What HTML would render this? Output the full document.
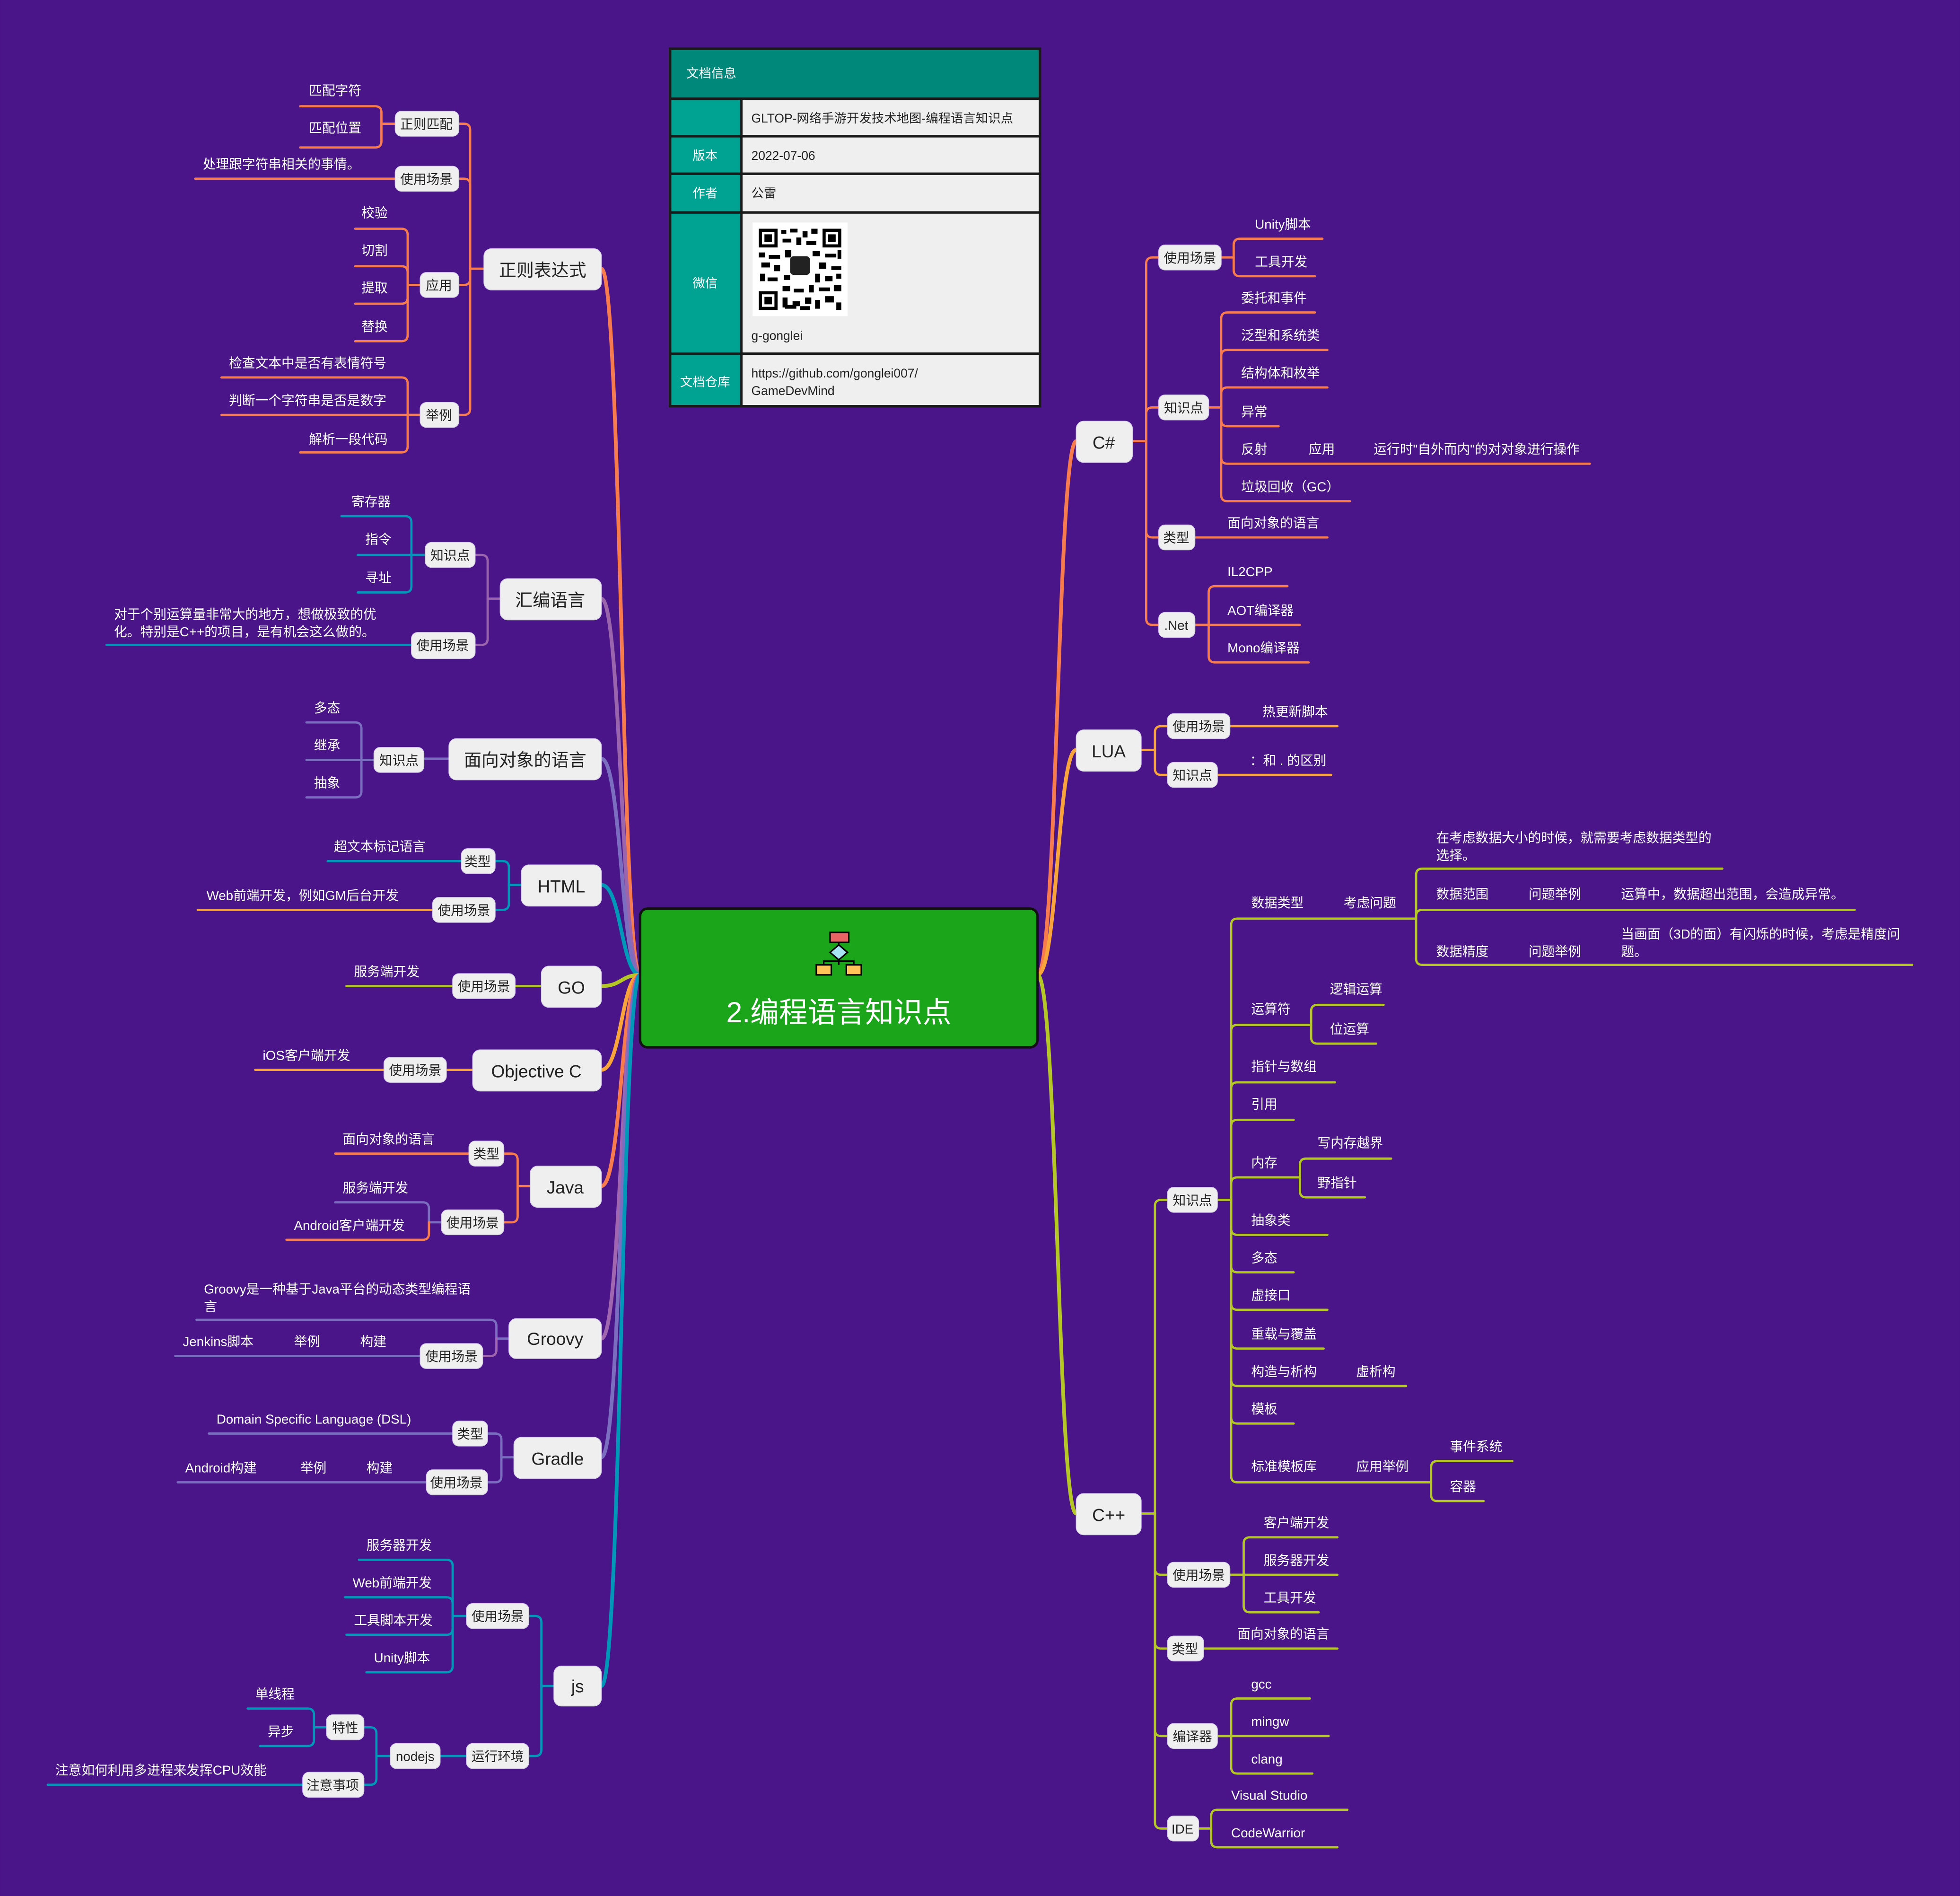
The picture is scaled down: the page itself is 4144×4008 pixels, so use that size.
<!DOCTYPE html>
<html><head><meta charset="utf-8">
<style>
html,body{margin:0;padding:0;background:#4a1589;}
svg{display:block;}
.t{fill:#fff;font-size:10.5px;}
.b{fill:#222;font-size:10.5px;text-anchor:middle;}
.m{fill:#222;font-size:14px;text-anchor:middle;}
.bx{fill:#efefef;stroke:#d8d0e8;stroke-width:0.6;}
path{fill:none;stroke-linecap:round;}
.O{stroke:#f77b4d}.P{stroke:#9b65ad}.V{stroke:#7b6dc0}.T{stroke:#0098b8}.L{stroke:#b5c725}.Y{stroke:#f9a43a}.G{stroke:#a066b0}
.s path{stroke-width:1.8}
</style></head><body>
<svg width="4144" height="4008" viewBox="0 0 1568 1517" xmlns="http://www.w3.org/2000/svg" font-family="'Liberation Sans','Noto Sans CJK SC',sans-serif">
<rect width="1568" height="1517" fill="#4a1589"/>

<!-- main curves -->
<g stroke-width="3">
<path class="O" d="M481 215 C497 215 497 780 512 780"/>
<path class="P" d="M481 479 C497 479 497 780 512 780"/>
<path class="V" d="M481 607 C497 607 497 780 512 780"/>
<path class="T" d="M481 708 C497 708 497 780 512 780"/>
<path class="L" d="M481 789 C497 789 497 780 512 780"/>
<path class="Y" d="M481 856 C497 856 497 780 512 780"/>
<path class="O" d="M481 949 C497 949 497 780 512 780"/>
<path class="G" d="M481 1071 C497 1071 497 780 512 780"/>
<path class="V" d="M481 1166 C497 1166 497 780 512 780"/>
<path class="T" d="M481 1349 C497 1349 497 780 512 780"/>
<path class="O" d="M830 780 C846 780 846 353 861 353"/>
<path class="Y" d="M830 780 C846 780 846 600 861 600"/>
<path class="L" d="M830 780 C846 780 846 1211 861 1211"/>
</g>

<g class="s">
<!-- Regex -->
<g class="O">
<path d="M387 215 H376 V104 Q376 99 371 99 H367"/>
<path d="M376 215 V148 Q376 143 371 143 H367"/>
<path d="M376 215 V223 Q376 228 371 228 H367"/>
<path d="M376 215 V327 Q376 332 371 332 H367"/>
<path d="M316 99 H305 V90 Q305 85 300 85 H240"/>
<path d="M305 99 V113 Q305 118 300 118 H240"/>
<path d="M316 143 H156"/>
<path d="M336 228 H326 V188 Q326 183 321 183 H284"/>
<path d="M326 228 V218 Q326 213 321 213 H284"/>
<path d="M326 228 V238 Q326 243 321 243 H284"/>
<path d="M326 228 V268 Q326 273 321 273 H284"/>
<path d="M336 332 H326 V307 Q326 302 321 302 H177"/>
<path d="M336 332 H177"/>
<path d="M326 332 V357 Q326 362 321 362 H240"/>
</g>
<!-- Assembly -->
<path class="P" d="M400 479 H390 V449 Q390 444 385 444 H380"/>
<path class="P" d="M390 479 V511 Q390 516 385 516 H380"/>
<g class="T">
<path d="M340 444 H329 V418 Q329 413 324 413 H273"/>
<path d="M340 444 H286"/>
<path d="M329 444 V469 Q329 474 324 474 H286"/>
<path d="M329 516 H85"/>
</g>
<!-- OOP -->
<g class="V">
<path d="M359 607 H339"/>
<path d="M299 608 H289 V583 Q289 578 284 578 H245"/>
<path d="M299 608 H245"/>
<path d="M289 608 V633 Q289 638 284 638 H245"/>
</g>
<!-- HTML -->
<path class="T" d="M417 708 H407 V694 Q407 689 402 689 H396"/>
<path class="T" d="M407 708 V723 Q407 728 402 728 H396"/>
<path class="T" d="M369 689 H262"/>
<path class="Y" d="M346 728 H158"/>
<!-- GO -->
<path class="L" d="M433 789 H412"/>
<path class="L" d="M362 789 H277"/>
<!-- ObjC -->
<path class="Y" d="M378 856 H357"/>
<path class="Y" d="M307 856 H204"/>
<!-- Java -->
<path class="O" d="M424 949 H414 V928 Q414 923 409 923 H403"/>
<path class="O" d="M414 949 V973 Q414 978 409 978 H403"/>
<path class="O" d="M375 923 H268"/>
<path class="V" d="M353 978 H343 V967 Q343 962 338 962 H268"/>
<path class="O" d="M343 978 V987 Q343 992 338 992 H229"/>
<!-- Groovy -->
<path class="V" d="M407 1071 H397 V1061 Q397 1056 392 1056 H157"/>
<path class="G" d="M397 1071 V1080 Q397 1085 392 1085 H386"/>
<path class="V" d="M336 1085 H140"/>
<!-- Gradle -->
<g class="V">
<path d="M411 1166 H401 V1152 Q401 1147 396 1147 H390"/>
<path d="M401 1166 V1181 Q401 1186 396 1186 H390"/>
<path d="M362 1147 H167"/>
<path d="M341 1186 H142"/>
</g>
<!-- js -->
<g class="T">
<path d="M443 1349 H433 V1298 Q433 1293 428 1293 H423"/>
<path d="M433 1349 V1400 Q433 1405 428 1405 H423"/>
<path d="M373 1293 H362 V1253 Q362 1248 357 1248 H287"/>
<path d="M362 1293 V1283 Q362 1278 357 1278 H276"/>
<path d="M362 1293 V1303 Q362 1308 357 1308 H277"/>
<path d="M362 1293 V1333 Q362 1338 357 1338 H293"/>
<path d="M373 1405 H352"/>
<path d="M312 1405 H301 V1387 Q301 1382 296 1382 H291"/>
<path d="M301 1405 V1423 Q301 1428 296 1428 H291"/>
<path d="M261 1382 H251 V1372 Q251 1367 246 1367 H198"/>
<path d="M251 1382 V1392 Q251 1397 246 1397 H208"/>
<path d="M242 1428 H38"/>
</g>
<!-- C# -->
<g class="O">
<path d="M906 353 H917 V211 Q917 206 922 206 H927"/>
<path d="M917 353 V331 Q917 326 922 326 H927"/>
<path d="M917 353 V425 Q917 430 922 430 H927"/>
<path d="M917 353 V495 Q917 500 922 500 H927"/>
<path d="M977 206 H987 V196 Q987 191 992 191 H1058"/>
<path d="M987 206 V216 Q987 221 992 221 H1052"/>
<path d="M967 326 H977 V255 Q977 250 982 250 H1052"/>
<path d="M977 326 V285 Q977 280 982 280 H1062"/>
<path d="M977 326 V315 Q977 310 982 310 H1062"/>
<path d="M977 326 V336 Q977 341 982 341 H1023"/>
<path d="M977 326 V366 Q977 371 982 371 H1272"/>
<path d="M977 326 V396 Q977 401 982 401 H1080"/>
<path d="M956 430 H1062"/>
<path d="M956 500 H967 V474 Q967 469 972 469 H1030"/>
<path d="M956 500 H1040"/>
<path d="M967 500 V525 Q967 530 972 530 H1047"/>
</g>
<!-- LUA -->
<g class="Y">
<path d="M913 600 H924 V586 Q924 581 929 581 H934"/>
<path d="M924 600 V615 Q924 620 929 620 H934"/>
<path d="M984 581 H1070"/>
<path d="M974 620 H1065"/>
</g>
<!-- C++ -->
<g class="L">
<path d="M913 1211 H924 V965 Q924 960 929 960 H934"/>
<path d="M924 1211 V1255 Q924 1260 929 1260 H934"/>
<path d="M924 1211 V1314 Q924 1319 929 1319 H934"/>
<path d="M924 1211 V1384 Q924 1389 929 1389 H934"/>
<path d="M924 1211 V1458 Q924 1463 929 1463 H934"/>
<path d="M974 960 H985 V740 Q985 735 990 735 H1133"/>
<path d="M985 960 V825 Q985 820 990 820 H1049"/>
<path d="M985 960 V871 Q985 866 990 866 H1068"/>
<path d="M985 960 V901 Q985 896 990 896 H1035"/>
<path d="M985 960 V947 Q985 942 990 942 H1040"/>
<path d="M985 960 V983 Q985 988 990 988 H1062"/>
<path d="M985 960 V1013 Q985 1018 990 1018 H1035"/>
<path d="M985 960 V1043 Q985 1048 990 1048 H1062"/>
<path d="M985 960 V1074 Q985 1079 990 1079 H1059"/>
<path d="M985 960 V1104 Q985 1109 990 1109 H1125"/>
<path d="M985 960 V1134 Q985 1139 990 1139 H1035"/>
<path d="M985 960 V1181 Q985 1186 990 1186 H1145"/>
<path d="M1133 735 V700 Q1133 695 1138 695 H1378"/>
<path d="M1133 735 V733 Q1133 728 1138 728 H1484"/>
<path d="M1133 735 V767 Q1133 772 1138 772 H1530"/>
<path d="M1049 820 V809 Q1049 804 1054 804 H1107"/>
<path d="M1049 820 V830 Q1049 835 1054 835 H1101"/>
<path d="M1040 942 V932 Q1040 927 1045 927 H1113"/>
<path d="M1040 942 V953 Q1040 958 1045 958 H1092"/>
<path d="M1145 1186 V1174 Q1145 1169 1150 1169 H1210"/>
<path d="M1145 1186 V1196 Q1145 1201 1150 1201 H1187"/>
<path d="M984 1260 H995 V1235 Q995 1230 1000 1230 H1070"/>
<path d="M984 1260 H1070"/>
<path d="M995 1260 V1285 Q995 1290 1000 1290 H1055"/>
<path d="M963 1319 H1070"/>
<path d="M974 1389 H985 V1364 Q985 1359 990 1359 H1048"/>
<path d="M974 1389 H1063"/>
<path d="M985 1389 V1414 Q985 1419 990 1419 H1050"/>
<path d="M959 1463 H969 V1453 Q969 1448 974 1448 H1078"/>
<path d="M969 1463 V1473 Q969 1478 974 1478 H1070"/>
</g>
</g>

<!-- main nodes -->
<g>
<rect class="bx" x="387" y="199" width="94" height="33" rx="6"/><text class="m" x="434" y="221">正则表达式</text>
<rect class="bx" x="400" y="463" width="81" height="33" rx="6"/><text class="m" x="440" y="485">汇编语言</text>
<rect class="bx" x="359" y="591" width="122" height="33" rx="6"/><text class="m" x="420" y="613">面向对象的语言</text>
<rect class="bx" x="417" y="692" width="64" height="33" rx="6"/><text class="m" x="449" y="714">HTML</text>
<rect class="bx" x="433" y="773" width="48" height="33" rx="6"/><text class="m" x="457" y="795">GO</text>
<rect class="bx" x="378" y="840" width="103" height="33" rx="6"/><text class="m" x="429" y="862">Objective C</text>
<rect class="bx" x="424" y="933" width="57" height="33" rx="6"/><text class="m" x="452" y="955">Java</text>
<rect class="bx" x="407" y="1055" width="74" height="32" rx="6"/><text class="m" x="444" y="1076">Groovy</text>
<rect class="bx" x="411" y="1150" width="70" height="33" rx="6"/><text class="m" x="446" y="1172">Gradle</text>
<rect class="bx" x="443" y="1333" width="38" height="32" rx="6"/><text class="m" x="462" y="1354">js</text>
<rect class="bx" x="861" y="337" width="45" height="33" rx="6"/><text class="m" x="883" y="359">C#</text>
<rect class="bx" x="861" y="584" width="52" height="33" rx="6"/><text class="m" x="887" y="606">LUA</text>
<rect class="bx" x="861" y="1195" width="52" height="33" rx="6"/><text class="m" x="887" y="1217">C++</text>
</g>

<!-- sub nodes -->
<g>
<rect class="bx" x="316" y="89" width="51" height="20" rx="5"/><text class="b" x="341" y="103">正则匹配</text>
<rect class="bx" x="316" y="133" width="51" height="20" rx="5"/><text class="b" x="341" y="147">使用场景</text>
<rect class="bx" x="336" y="218" width="31" height="20" rx="5"/><text class="b" x="351" y="232">应用</text>
<rect class="bx" x="336" y="322" width="31" height="20" rx="5"/><text class="b" x="351" y="336">举例</text>
<rect class="bx" x="340" y="434" width="40" height="20" rx="5"/><text class="b" x="360" y="448">知识点</text>
<rect class="bx" x="329" y="506" width="51" height="21" rx="5"/><text class="b" x="354" y="520">使用场景</text>
<rect class="bx" x="299" y="598" width="40" height="20" rx="5"/><text class="b" x="319" y="612">知识点</text>
<rect class="bx" x="369" y="679" width="27" height="20" rx="5"/><text class="b" x="382" y="693">类型</text>
<rect class="bx" x="346" y="718" width="50" height="20" rx="5"/><text class="b" x="371" y="732">使用场景</text>
<rect class="bx" x="362" y="779" width="50" height="20" rx="5"/><text class="b" x="387" y="793">使用场景</text>
<rect class="bx" x="307" y="846" width="50" height="20" rx="5"/><text class="b" x="332" y="860">使用场景</text>
<rect class="bx" x="375" y="913" width="28" height="20" rx="5"/><text class="b" x="389" y="927">类型</text>
<rect class="bx" x="353" y="968" width="50" height="20" rx="5"/><text class="b" x="378" y="982">使用场景</text>
<rect class="bx" x="336" y="1075" width="50" height="20" rx="5"/><text class="b" x="361" y="1089">使用场景</text>
<rect class="bx" x="362" y="1137" width="28" height="20" rx="5"/><text class="b" x="376" y="1151">类型</text>
<rect class="bx" x="341" y="1176" width="49" height="20" rx="5"/><text class="b" x="365" y="1190">使用场景</text>
<rect class="bx" x="373" y="1283" width="50" height="20" rx="5"/><text class="b" x="398" y="1297">使用场景</text>
<rect class="bx" x="373" y="1395" width="50" height="20" rx="5"/><text class="b" x="398" y="1409">运行环境</text>
<rect class="bx" x="312" y="1395" width="40" height="20" rx="5"/><text class="b" x="332" y="1409">nodejs</text>
<rect class="bx" x="261" y="1372" width="30" height="20" rx="5"/><text class="b" x="276" y="1386">特性</text>
<rect class="bx" x="242" y="1418" width="49" height="20" rx="5"/><text class="b" x="266" y="1432">注意事项</text>
<rect class="bx" x="927" y="196" width="50" height="20" rx="5"/><text class="b" x="952" y="210">使用场景</text>
<rect class="bx" x="927" y="316" width="40" height="20" rx="5"/><text class="b" x="947" y="330">知识点</text>
<rect class="bx" x="927" y="420" width="29" height="20" rx="5"/><text class="b" x="941" y="434">类型</text>
<rect class="bx" x="927" y="490" width="29" height="20" rx="5"/><text class="b" x="941" y="504">.Net</text>
<rect class="bx" x="934" y="571" width="50" height="20" rx="5"/><text class="b" x="959" y="585">使用场景</text>
<rect class="bx" x="934" y="610" width="40" height="20" rx="5"/><text class="b" x="954" y="624">知识点</text>
<rect class="bx" x="934" y="950" width="40" height="20" rx="5"/><text class="b" x="954" y="964">知识点</text>
<rect class="bx" x="934" y="1250" width="50" height="20" rx="5"/><text class="b" x="959" y="1264">使用场景</text>
<rect class="bx" x="934" y="1309" width="29" height="20" rx="5"/><text class="b" x="948" y="1323">类型</text>
<rect class="bx" x="934" y="1379" width="40" height="20" rx="5"/><text class="b" x="954" y="1393">编译器</text>
<rect class="bx" x="934" y="1453" width="25" height="20" rx="5"/><text class="b" x="946" y="1467">IDE</text>
</g>

<!-- leaf texts -->
<g class="t">
<text x="247" y="76">匹配字符</text>
<text x="247" y="106">匹配位置</text>
<text x="162" y="135">处理跟字符串相关的事情。</text>
<text x="289" y="174">校验</text>
<text x="289" y="204">切割</text>
<text x="289" y="234">提取</text>
<text x="289" y="265">替换</text>
<text x="183" y="294">检查文本中是否有表情符号</text>
<text x="183" y="324">判断一个字符串是否是数字</text>
<text x="247" y="355">解析一段代码</text>
<text x="281" y="405">寄存器</text>
<text x="292" y="435">指令</text>
<text x="292" y="466">寻址</text>
<text x="91" y="495">对于个别运算量非常大的地方，想做极致的优</text>
<text x="91" y="509">化。特别是C++的项目，是有机会这么做的。</text>
<text x="251" y="570">多态</text>
<text x="251" y="600">继承</text>
<text x="251" y="630">抽象</text>
<text x="267" y="681">超文本标记语言</text>
<text x="165" y="720">Web前端开发，例如GM后台开发</text>
<text x="283" y="781">服务端开发</text>
<text x="210" y="848">iOS客户端开发</text>
<text x="274" y="915">面向对象的语言</text>
<text x="274" y="954">服务端开发</text>
<text x="235" y="984">Android客户端开发</text>
<text x="163" y="1035">Groovy是一种基于Java平台的动态类型编程语</text>
<text x="163" y="1049">言</text>
<text x="146" y="1077">Jenkins脚本</text><text x="235" y="1077">举例</text><text x="288" y="1077">构建</text>
<text x="173" y="1139">Domain Specific Language (DSL)</text>
<text x="148" y="1178">Android构建</text><text x="240" y="1178">举例</text><text x="293" y="1178">构建</text>
<text x="293" y="1240">服务器开发</text>
<text x="282" y="1270">Web前端开发</text>
<text x="283" y="1300">工具脚本开发</text>
<text x="299" y="1330">Unity脚本</text>
<text x="204" y="1359">单线程</text>
<text x="214" y="1389">异步</text>
<text x="44" y="1420">注意如何利用多进程来发挥CPU效能</text>

<text x="1004" y="183">Unity脚本</text>
<text x="1004" y="213">工具开发</text>
<text x="993" y="242">委托和事件</text>
<text x="993" y="272">泛型和系统类</text>
<text x="993" y="302">结构体和枚举</text>
<text x="993" y="333">异常</text>
<text x="993" y="363">反射</text><text x="1047" y="363">应用</text><text x="1099" y="363">运行时"自外而内"的对对象进行操作</text>
<text x="993" y="393">垃圾回收（GC）</text>
<text x="982" y="422">面向对象的语言</text>
<text x="982" y="461">IL2CPP</text>
<text x="982" y="492">AOT编译器</text>
<text x="982" y="522">Mono编译器</text>
<text x="1010" y="573">热更新脚本</text>
<text x="1000" y="612">：和 . 的区别</text>

<text x="1149" y="674">在考虑数据大小的时候，就需要考虑数据类型的</text>
<text x="1149" y="688">选择。</text>
<text x="1001" y="726">数据类型</text><text x="1075" y="726">考虑问题</text>
<text x="1149" y="719">数据范围</text><text x="1223" y="719">问题举例</text><text x="1297" y="719">运算中，数据超出范围，会造成异常。</text>
<text x="1149" y="765">数据精度</text><text x="1223" y="765">问题举例</text>
<text x="1297" y="751">当画面（3D的面）有闪烁的时候，考虑是精度问</text>
<text x="1297" y="765">题。</text>
<text x="1001" y="811">运算符</text>
<text x="1064" y="795">逻辑运算</text>
<text x="1064" y="827">位运算</text>
<text x="1001" y="857">指针与数组</text>
<text x="1001" y="887">引用</text>
<text x="1001" y="934">内存</text>
<text x="1054" y="918">写内存越界</text>
<text x="1054" y="950">野指针</text>
<text x="1001" y="980">抽象类</text>
<text x="1001" y="1010">多态</text>
<text x="1001" y="1040">虚接口</text>
<text x="1001" y="1071">重载与覆盖</text>
<text x="1001" y="1101">构造与析构</text><text x="1085" y="1101">虚析构</text>
<text x="1001" y="1131">模板</text>
<text x="1001" y="1177">标准模板库</text><text x="1085" y="1177">应用举例</text>
<text x="1160" y="1161">事件系统</text>
<text x="1160" y="1193">容器</text>
<text x="1011" y="1222">客户端开发</text>
<text x="1011" y="1252">服务器开发</text>
<text x="1011" y="1282">工具开发</text>
<text x="990" y="1311">面向对象的语言</text>
<text x="1001" y="1351">gcc</text>
<text x="1001" y="1381">mingw</text>
<text x="1001" y="1411">clang</text>
<text x="985" y="1440">Visual Studio</text>
<text x="985" y="1470">CodeWarrior</text>
</g>

<!-- root -->
<rect x="512" y="727" width="318" height="111" rx="6" fill="#1aa51a" stroke="#111" stroke-width="2"/>
<g stroke="#000" stroke-width="1.2">
<line x1="671" y1="754" x2="671" y2="772"/>
<path d="M659 772 V769 H683 V772" />
<rect x="664" y="746" width="15" height="8" fill="#e86464"/>
<polygon points="671,756 678,762 671,768 664,762" fill="#a8e4f4"/>
<rect x="653" y="772" width="12" height="8" fill="#ffc35a"/>
<rect x="677" y="772" width="12" height="8" fill="#ffc35a"/>
</g>
<text x="671" y="818" fill="#fff" font-size="23" text-anchor="middle">2.编程语言知识点</text>

<!-- table -->
<rect x="535" y="38" width="298" height="288" fill="#1a1a1a"/>
<rect x="537" y="40" width="294" height="38" fill="#00897b"/>
<g fill="#00a392">
<rect x="537" y="80" width="55" height="28"/>
<rect x="537" y="110" width="55" height="28"/>
<rect x="537" y="140" width="55" height="29"/>
<rect x="537" y="171" width="55" height="111"/>
<rect x="537" y="284" width="55" height="40"/>
</g>
<g fill="#efefef">
<rect x="594" y="80" width="237" height="28"/>
<rect x="594" y="110" width="237" height="28"/>
<rect x="594" y="140" width="237" height="29"/>
<rect x="594" y="171" width="237" height="111"/>
<rect x="594" y="284" width="237" height="40"/>
</g>
<g font-size="10" fill="#fff" text-anchor="middle">
<text x="569" y="62" text-anchor="middle">文档信息</text>
<text x="564" y="128">版本</text>
<text x="564" y="158">作者</text>
<text x="564" y="230">微信</text>
<text x="564" y="309">文档仓库</text>
</g>
<g font-size="10" fill="#222">
<text x="601" y="98">GLTOP-网络手游开发技术地图-编程语言知识点</text>
<text x="601" y="128">2022-07-06</text>
<text x="601" y="158">公雷</text>
<text x="601" y="272">g-gonglei</text>
<text x="601" y="302">https://github.com/gonglei007/</text>
<text x="601" y="316">GameDevMind</text>
</g>
<rect x="602" y="178" width="76" height="75" fill="#fff"/>
<g fill="#000">
<rect x="607" y="183" width="15" height="15"/><rect x="609.5" y="185.5" width="10" height="10" fill="#fff"/><rect x="611.5" y="187.5" width="6" height="6"/>
<rect x="658" y="183" width="15" height="15"/><rect x="660.5" y="185.5" width="10" height="10" fill="#fff"/><rect x="662.5" y="187.5" width="6" height="6"/>
<rect x="607" y="233" width="15" height="15"/><rect x="609.5" y="235.5" width="10" height="10" fill="#fff"/><rect x="611.5" y="237.5" width="6" height="6"/>
<rect x="625" y="184" width="4" height="3"/><rect x="632" y="183" width="6" height="3"/><rect x="642" y="185" width="4" height="5"/><rect x="649" y="183" width="5" height="4"/>
<rect x="626" y="191" width="7" height="3"/><rect x="637" y="190" width="4" height="6"/><rect x="645" y="193" width="8" height="3"/>
<rect x="607" y="202" width="5" height="4"/><rect x="615" y="204" width="9" height="3"/><rect x="628" y="200" width="5" height="6"/><rect x="650" y="201" width="6" height="4"/><rect x="660" y="203" width="9" height="3"/><rect x="670" y="200" width="3" height="7"/>
<rect x="609" y="210" width="7" height="4"/><rect x="619" y="212" width="5" height="5"/><rect x="655" y="210" width="6" height="5"/><rect x="665" y="213" width="8" height="3"/>
<rect x="608" y="219" width="4" height="6"/><rect x="614" y="222" width="8" height="3"/><rect x="627" y="220" width="5" height="4"/><rect x="652" y="219" width="4" height="7"/><rect x="660" y="221" width="6" height="4"/><rect x="669" y="219" width="4" height="4"/>
<rect x="626" y="229" width="6" height="4"/><rect x="635" y="231" width="8" height="3"/><rect x="647" y="228" width="4" height="6"/><rect x="655" y="230" width="9" height="3"/><rect x="667" y="228" width="6" height="5"/>
<rect x="626" y="238" width="4" height="8"/><rect x="634" y="241" width="6" height="4"/><rect x="644" y="238" width="5" height="5"/><rect x="652" y="240" width="4" height="7"/><rect x="660" y="237" width="7" height="5"/><rect x="669" y="242" width="4" height="6"/>
<rect x="628" y="244" width="9" height="3"/><rect x="640" y="245" width="8" height="3"/>
<rect x="632" y="205" width="16" height="15" rx="3" fill="#222"/>
</g>
</svg>
</body></html>
